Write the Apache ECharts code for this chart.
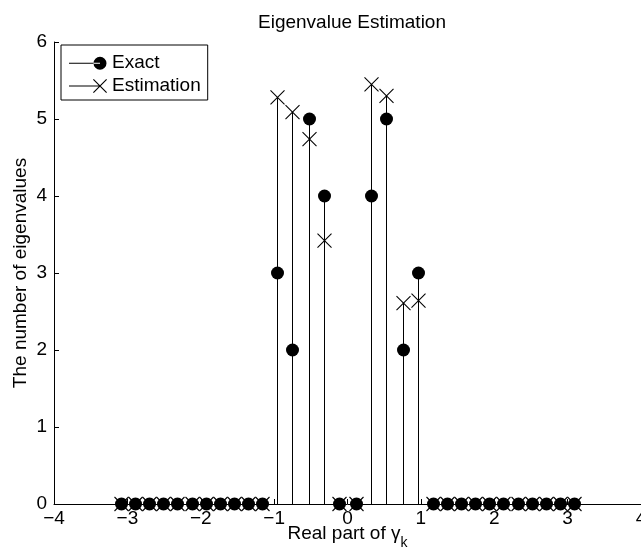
<!DOCTYPE html>
<html>
<head>
<meta charset="utf-8">
<script src="https://cdn.jsdelivr.net/npm/echarts@6/dist/echarts.min.js"></script>
<style>
  html, body { margin: 0; padding: 0; background: #fff; }
  #chart { width: 641px; height: 555px; }
</style>
</head>
<body>
<div id="chart"></div>
<script>
// Real parts of the eigenvalues (shared by both series)
const positions = [
  -3.09, -2.90, -2.70, -2.51, -2.32, -2.12, -1.93, -1.74, -1.55, -1.35, -1.16,
  -0.96, -0.75, -0.53, -0.32, -0.11, 0.11, 0.32, 0.53, 0.75, 0.96,
  1.16, 1.35, 1.55, 1.74, 1.93, 2.12, 2.32, 2.51, 2.70, 2.90, 3.09
];
// Exact eigenvalue counts
const exactCounts = [
  0, 0, 0, 0, 0, 0, 0, 0, 0, 0, 0,
  3, 2, 5, 4, 0, 0, 4, 5, 2, 3,
  0, 0, 0, 0, 0, 0, 0, 0, 0, 0, 0
];
// Estimated eigenvalue counts
const estimatedCounts = [
  0, 0, 0, 0, 0, 0, 0, 0, 0, 0, 0,
  5.28, 5.09, 4.74, 3.42, 0, 0, 5.45, 5.30, 2.61, 2.64,
  0, 0, 0, 0, 0, 0, 0, 0, 0, 0, 0
];
const xTicks = [-4, -3, -2, -1, 0, 1, 2, 3, 4];
const xTickLabels = ['\u22124', '\u22123', '\u22122', '\u22121', '0', '1', '2', '3', '4'];
const yTicks = [0, 1, 2, 3, 4, 5, 6];
const yTickLabels = ['0', '1', '2', '3', '4', '5', '6'];

const FONT = '"Liberation Sans", Arial, Helvetica, sans-serif';

// stem plot: vertical line from the baseline up to the value, marker on top
function stemRenderer(marker) {
  return function (params, api) {
    const x = api.value(0), y = api.value(1);
    const base = api.coord([x, 0]);
    const top = api.coord([x, y]);
    const sx = Math.round(base[0]) + 0.5; // snap the stem to a pixel column
    const children = [{
      type: 'line',
      shape: { x1: sx, y1: base[1], x2: sx, y2: top[1] },
      style: { stroke: '#000', lineWidth: 1 }
    }];
    if (marker === 'circle') {
      children.push({
        type: 'circle',
        shape: { cx: sx, cy: top[1], r: 6.5 },
        style: { fill: '#000' }
      });
    } else {
      const h = 7;
      children.push({
        type: 'line',
        shape: { x1: sx - h, y1: top[1] - h, x2: sx + h, y2: top[1] + h },
        style: { stroke: '#000', lineWidth: 1.1 }
      });
      children.push({
        type: 'line',
        shape: { x1: sx - h, y1: top[1] + h, x2: sx + h, y2: top[1] - h },
        style: { stroke: '#000', lineWidth: 1.1 }
      });
    }
    return { type: 'group', children: children };
  };
}

const exactIcon = 'path://M0,6.5 L31,6.5 L31,7.5 L0,7.5 Z M24.5,7 a6.5,6.5 0 1,0 13,0 a6.5,6.5 0 1,0 -13,0 Z M38,0 L38,0.01 Z';
const estIcon = 'path://M0,6.5 L31,6.5 L31,7.5 L0,7.5 Z ' +
  'M24,0.8 L24.8,0 L38,13.2 L37.2,14 Z M24,13.2 L37.2,0 L38,0.8 L24.8,14 Z';

const chart = echarts.init(document.getElementById('chart'), null, { renderer: 'canvas' });
chart.setOption({
  backgroundColor: '#fff',
  animation: false,
  title: {
    text: 'Eigenvalue Estimation',
    left: 347, top: 8, textAlign: 'center',
    textStyle: { fontFamily: FONT, fontSize: 19, fontWeight: 'normal', color: '#000' }
  },
  legend: {
    left: 61, top: 45,
    orient: 'vertical',
    padding: [7, 7, 3, 8],
    itemGap: 1,
    itemWidth: 38, itemHeight: 14,
    itemTextGap: 8,
    borderColor: '#000', borderWidth: 1, borderRadius: 0,
    backgroundColor: '#fff',
    selectedMode: false,
    textStyle: { fontFamily: FONT, fontSize: 19, color: '#000', lineHeight: 22 },
    itemStyle: { color: '#000' },
    data: [
      { name: 'Exact', icon: exactIcon },
      { name: 'Estimation', icon: estIcon }
    ]
  },
  grid: { left: 54, right: 0, top: 42, bottom: 51, containLabel: false, outerBoundsMode: 'none' },
  xAxis: {
    type: 'value', min: -4, max: 4, interval: 1,
    name: '{a|Real part of \u03b3}{b|k}',
    nameLocation: 'middle', nameGap: 20, nameMoveOverlap: false,
    nameTextStyle: {
      rich: {
        a: { fontFamily: FONT, fontSize: 19, color: '#000', verticalAlign: 'top' },
        b: { fontFamily: FONT, fontSize: 14, color: '#000', padding: [12, 0, 0, 0], verticalAlign: 'top' }
      }
    },
    axisLine: { show: true, onZero: false, lineStyle: { color: '#000', width: 1 } },
    axisTick: { show: true, inside: true, length: 5, lineStyle: { color: '#000' } },
    axisLabel: {
      fontFamily: FONT, fontSize: 19, color: '#000', margin: 5,
      showMinLabel: true, showMaxLabel: true, hideOverlap: false,
      formatter: function (v) { const i = xTicks.indexOf(v); return i >= 0 ? xTickLabels[i] : ''; }
    },
    splitLine: { show: false }
  },
  yAxis: {
    type: 'value', min: 0, max: 6, interval: 1,
    name: 'The number of eigenvalues',
    nameLocation: 'middle', nameGap: 24, nameMoveOverlap: false,
    nameTextStyle: { fontFamily: FONT, fontSize: 19, color: '#000' },
    axisLine: { show: true, onZero: false, lineStyle: { color: '#000', width: 1 } },
    axisTick: { show: true, inside: true, length: 5, lineStyle: { color: '#000' } },
    axisLabel: {
      fontFamily: FONT, fontSize: 19, color: '#000', margin: 7,
      formatter: function (v) { const i = yTicks.indexOf(v); return i >= 0 ? yTickLabels[i] : ''; }
    },
    splitLine: { show: false }
  },
  series: [
    {
      name: 'Exact', type: 'custom', clip: false,
      itemStyle: { color: '#000' },
      renderItem: stemRenderer('circle'),
      encode: { x: 0, y: 1 },
      data: positions.map(function (p, i) { return [p, exactCounts[i]]; }),
      z: 2
    },
    {
      name: 'Estimation', type: 'custom', clip: false,
      itemStyle: { color: '#000' },
      renderItem: stemRenderer('cross'),
      encode: { x: 0, y: 1 },
      data: positions.map(function (p, i) { return [p, estimatedCounts[i]]; }),
      z: 3
    }
  ]
});
</script>
</body>
</html>
